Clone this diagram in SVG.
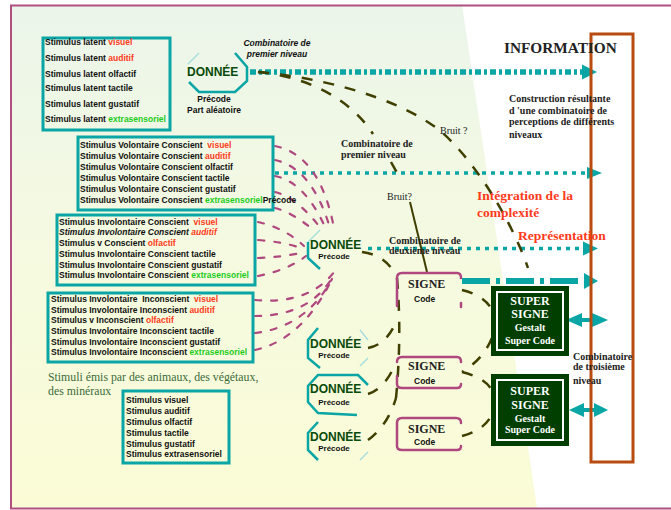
<svg xmlns="http://www.w3.org/2000/svg" width="671" height="510" viewBox="0 0 671 510">
<defs>
<linearGradient id="bg" x1="0" y1="0" x2="0" y2="1">
<stop offset="0" stop-color="#ebf5ea"/>
<stop offset="0.5" stop-color="#f5fae0"/>
<stop offset="1" stop-color="#fbfcd6"/>
</linearGradient>
</defs>
<style>
.sans{font-family:"Liberation Sans",Arial,sans-serif;font-weight:bold;font-size:8.5px;fill:#111}
.serif{font-family:"Liberation Serif","Times New Roman",serif;font-weight:bold;fill:#222}
.box{fill:none;stroke:#0aa5a5;stroke-width:3}
.red{fill:#ff3a1a}
.grn{fill:#1ccc1c}
.don{font-family:"Liberation Sans",Arial,sans-serif;font-weight:bold;font-size:12px;fill:#0a4a0a}
.pre{font-family:"Liberation Sans",Arial,sans-serif;font-weight:bold;font-size:8px;fill:#111;text-anchor:middle}
.oct{fill:none;stroke:#0aa5a5;stroke-width:2.5}
.octf{fill:none;stroke:#a8dede;stroke-width:1.5}
.signe{fill:none;stroke:#b04880;stroke-width:2.5;stroke-linecap:round}
.pink{fill:none;stroke:#b04880;stroke-width:2.2;stroke-dasharray:6 10;stroke-linecap:round}
.olive{fill:none;stroke:#3f3f00;stroke-width:2.5;stroke-dasharray:11 11}
.tl{fill:none;stroke:#0aa5a5}
.ta{fill:#0aa5a5}
.sup{fill:#003f00}
.supi{fill:none;stroke:#ffffff;stroke-width:2}
.st{font-family:"Liberation Serif","Times New Roman",serif;font-weight:bold;fill:#ffffff;text-anchor:middle}
.grt{font-family:"Liberation Serif","Times New Roman",serif;font-size:11.8px;fill:#3a6b3a}
</style>
<rect x="0" y="0" width="671" height="510" fill="#ffffff"/>
<polygon points="11,5 462,5 537,508 11,508" fill="url(#bg)"/>
<polyline points="671,5.5 11,5.5 11,508.5 671,508.5" fill="none" stroke="#b05080" stroke-width="2"/>

<g id="connectors">
<line class="tl" x1="250" y1="72" x2="584" y2="72" stroke-width="5.5" stroke-dasharray="6 3 3 3"/>
<polygon class="ta" points="582,64.5 597,72 582,79.5"/>
<line class="tl" x1="275" y1="173" x2="588" y2="173" stroke-width="3.5" stroke-dasharray="4 5"/>
<polygon class="ta" points="587,167 602,173 587,179"/>
<line class="tl" x1="368" y1="248.5" x2="584" y2="248.5" stroke-width="3.5" stroke-dasharray="4 5"/>
<polygon class="ta" points="583,241.5 598,248.5 583,255.5"/>
<line class="tl" x1="462" y1="281" x2="586" y2="281" stroke-width="6" stroke-dasharray="28 6 4 6"/>
<polygon class="ta" points="584,273 598,281 584,289"/>
<line class="tl" x1="578" y1="320" x2="596" y2="320" stroke-width="4"/>
<polygon class="ta" points="566,320 582,313 582,327"/>
<polygon class="ta" points="608,320 592,313 592,327"/>
<line class="tl" x1="580" y1="410" x2="597" y2="410" stroke-width="4"/>
<polygon class="ta" points="569,410 584,403 584,417"/>
<polygon class="ta" points="608,410 594,403 594,417"/>
<path class="pink" d="M275,146 Q320,155 334,228"/>
<path class="pink" d="M275,160 Q312,168 330,228"/>
<path class="pink" d="M275,176 Q305,182 326,229"/>
<path class="pink" d="M275,192 Q298,198 322,230"/>
<path class="pink" d="M275,208 Q292,212 316,232"/>
<path class="pink" d="M258,222 Q285,228 304,246"/>
<path class="pink" d="M258,240 Q285,242 304,249"/>
<path class="pink" d="M258,258 Q285,257 304,252"/>
<path class="pink" d="M258,276 Q288,270 306,256"/>
<path class="pink" d="M255,300 Q312,305 337,268"/>
<path class="pink" d="M255,316 Q312,316 335,273"/>
<path class="pink" d="M255,333 Q306,327 332,279"/>
<path class="pink" d="M255,350 Q300,340 329,285"/>
<path class="olive" d="M258,72 C305,76 350,98 373,134"/>
<path class="olive" d="M391,162 L401,180"/>
<path d="M410,202 L427,272" fill="none" stroke="#3f3f00" stroke-width="2"/>
<path class="olive" d="M258,72 C345,80 420,108 450,140 C480,170 512,222 528,268"/>
<path class="olive" d="M362,252 Q386,255 396,276"/>
<path class="olive" d="M397,278 Q402,335 396,398"/>
<path class="olive" d="M368,348 Q386,345 396,322"/>
<path class="olive" d="M368,394 Q386,388 396,362"/>
<path class="olive" d="M368,440 Q388,425 396,398"/>
<path class="olive" d="M462,290 Q502,300 493,335 Q485,358 462,372"/>
<path class="olive" d="M462,372 Q502,382 493,412 Q486,430 462,436"/>
</g>

<g id="box-latent">
<rect class="box" x="43" y="38" width="127" height="92"/>
<text class="sans" x="45" y="45">Stimulus latent <tspan class="red">visuel</tspan></text>
<text class="sans" x="45" y="61">Stimulus latent <tspan class="red">auditif</tspan></text>
<text class="sans" x="45" y="77">Stimulus latent olfactif</text>
<text class="sans" x="45" y="91">Stimulus latent tactile</text>
<text class="sans" x="45" y="107">Stimulus latent gustatif</text>
<text class="sans" x="45" y="122">Stimulus latent <tspan class="grn">extrasensoriel</tspan></text>
</g>

<g id="box-volontaire">
<rect class="box" x="78" y="137" width="195" height="73"/>
<text class="sans" x="80" y="148" xml:space="preserve">Stimulus Volontaire Conscient  <tspan class="red">visuel</tspan></text>
<text class="sans" x="80" y="159">Stimulus Volontaire Conscient <tspan class="red">auditif</tspan></text>
<text class="sans" x="80" y="170">Stimulus Volontaire Conscient olfactif</text>
<text class="sans" x="80" y="181">Stimulus Volontaire Conscient tactile</text>
<text class="sans" x="80" y="192">Stimulus Volontaire Conscient gustatif</text>
<text class="sans" x="80" y="203">Stimulus Volontaire Conscient <tspan class="grn">extrasensoriel</tspan>Précode</text>
</g>

<g id="box-involontaire-conscient">
<rect class="box" x="57" y="215" width="198" height="70"/>
<text class="sans" x="59" y="225" xml:space="preserve">Stimulus Involontaire Conscient  <tspan class="red">visuel</tspan></text>
<text class="sans" x="59" y="235" font-style="italic">Stimulus Involontaire Conscient <tspan class="red">auditif</tspan></text>
<text class="sans" x="59" y="246">Stimulus v Conscient <tspan class="red">olfactif</tspan></text>
<text class="sans" x="59" y="257">Stimulus Involontaire Conscient tactile</text>
<text class="sans" x="59" y="268">Stimulus Involontaire Conscient gustatif</text>
<text class="sans" x="59" y="278">Stimulus Involontaire Conscient <tspan class="grn">extrasensoriel</tspan></text>
</g>

<g id="box-involontaire-inconscient">
<rect class="box" x="48" y="293" width="205" height="69"/>
<text class="sans" x="51" y="302" xml:space="preserve">Stimulus Involontaire  Inconscient  <tspan class="red">visuel</tspan></text>
<text class="sans" x="51" y="313">Stimulus Involontaire Inconscient <tspan class="red">auditif</tspan></text>
<text class="sans" x="51" y="323">Stimulus v Inconscient <tspan class="red">olfactif</tspan></text>
<text class="sans" x="51" y="334">Stimulus Involontaire Inconscient tactile</text>
<text class="sans" x="51" y="345">Stimulus Involontaire Inconscient gustatif</text>
<text class="sans" x="51" y="355">Stimulus Involontaire Inconscient <tspan class="grn">extrasensoriel</tspan></text>
</g>

<g id="stimuli-label">
<text class="grt" x="48" y="381">Stimuli émis par des animaux, des végétaux,</text>
<text class="grt" x="48" y="395">des minéraux</text>
</g>

<g id="box-stimulus">
<rect class="box" x="123" y="391" width="106" height="72"/>
<text class="sans" x="126" y="403">Stimulus visuel</text>
<text class="sans" x="126" y="414">Stimulus auditif</text>
<text class="sans" x="126" y="425">Stimulus olfactif</text>
<text class="sans" x="126" y="436">Stimulus tactile</text>
<text class="sans" x="126" y="447">Stimulus gustatif</text>
<text class="sans" x="126" y="457">Stimulus extrasensoriel</text>
</g>

<g id="donnee-1">
<path class="octf" d="M188,64 L199,53"/>
<path class="oct" d="M235,53 L247,67 L247,81 L235,92 L199,92 L189,82"/>
<text class="don" x="187" y="76">DONNÉE</text>
<text class="sans" x="214" y="102" text-anchor="middle">Précode</text>
<text class="sans" x="214" y="113" text-anchor="middle">Part aléatoire</text>
<text class="sans" x="277" y="46" text-anchor="middle" font-style="italic">Combinatoire de</text>
<text class="sans" x="277" y="57" text-anchor="middle" font-style="italic">premier niveau</text>
</g>

<g id="donnee-2">
<path class="octf" d="M308,242 L320,230"/>
<path class="oct" d="M308,242 L308,258 L320,269"/>
<text class="don" x="310" y="249">DONNÉE</text>
<text class="pre" x="334" y="259">Précode</text>
</g>

<g id="donnee-3">
<path class="oct" d="M318,328 L308,340 L308,358 L320,368"/>
<path class="octf" d="M360,330 L368,340 M360,366 L368,358"/>
<text class="don" x="310" y="348">DONNÉE</text>
<text class="pre" x="334" y="358">Précode</text>
</g>

<g id="donnee-4">
<path class="oct" d="M368,385 L358,375 L318,375 L308,386 L308,402 L318,413 L357,415"/>
<text class="don" x="310" y="393">DONNÉE</text>
<text class="pre" x="334" y="405">Précode</text>
</g>

<g id="donnee-5">
<path class="oct" d="M318,422 L308,433 L308,450 L318,460"/>
<path class="octf" d="M360,460 L368,452"/>
<text class="don" x="310" y="441">DONNÉE</text>
<text class="pre" x="334" y="451">Précode</text>
</g>

<g id="signe-1">
<path class="signe" d="M397,306 L397,278 Q397,273 402,273 L457,273 Q461,273 461,278 M461,303 L461,307"/>
<text class="serif" x="408" y="288" font-size="12">SIGNE</text>
<text class="sans" x="414" y="302">Code</text>
</g>

<g id="signe-2">
<path class="signe" d="M397,362 Q397,357 402,357 L457,357 Q461,357 461,362 M397,376 L397,384 Q397,388 402,388 L457,388 Q461,388 461,384"/>
<text class="serif" x="408" y="370" font-size="12">SIGNE</text>
<text class="sans" x="414" y="384">Code</text>
</g>

<g id="signe-3">
<path class="signe" d="M461,423 Q461,418 456,418 L402,418 Q397,418 397,423 L397,446 Q397,450 402,450 L457,450 Q461,450 461,446"/>
<text class="serif" x="408" y="433" font-size="12">SIGNE</text>
<text class="sans" x="414" y="445">Code</text>
</g>

<g id="super-signe-1">
<rect class="sup" x="491" y="286" width="78" height="70"/>
<rect class="supi" x="497" y="292" width="66" height="58"/>
<text class="st" x="530" y="305" font-size="12">SUPER</text>
<text class="st" x="530" y="318" font-size="12">SIGNE</text>
<text class="st" x="530" y="331" font-size="10">Gestalt</text>
<text class="st" x="530" y="344" font-size="10">Super Code</text>
</g>

<g id="super-signe-2">
<rect class="sup" x="491" y="374" width="78" height="72"/>
<rect class="supi" x="497" y="380" width="66" height="60"/>
<text class="st" x="530" y="395" font-size="12">SUPER</text>
<text class="st" x="530" y="409" font-size="12">SIGNE</text>
<text class="st" x="530" y="422" font-size="10">Gestalt</text>
<text class="st" x="530" y="433" font-size="10">Super Code</text>
</g>

<g id="information">
<rect x="591" y="34" width="42" height="428" fill="none" stroke="#b84c10" stroke-width="3"/>
<text class="serif" x="504" y="53" font-size="15.3">INFORMATION</text>
<text class="serif" x="509" y="102" font-size="10">Construction résultante</text>
<text class="serif" x="509" y="114" font-size="10">d 'une combinatoire de</text>
<text class="serif" x="509" y="125" font-size="10">perceptions de différents</text>
<text class="serif" x="509" y="138" font-size="10">niveaux</text>
</g>

<g id="labels">
<text x="440" y="134" font-family="Liberation Serif,Times New Roman,serif" font-size="10" fill="#222">Bruit ?</text>
<text x="387" y="200" font-family="Liberation Serif,Times New Roman,serif" font-size="10" fill="#222">Bruit?</text>
<text class="serif" x="341" y="147" font-size="10">Combinatoire de</text>
<text class="serif" x="341" y="158" font-size="10">premier niveau</text>
<text class="serif" x="389" y="244" font-size="10">Combinatoire de</text>
<text class="serif" x="389" y="254" font-size="10">deuxième niveau</text>
<text class="serif red" x="477" y="200" font-size="13.5">Intégration de la</text>
<text class="serif red" x="477" y="217" font-size="13.5">complexité</text>
<text class="serif red" x="518" y="240" font-size="13.5">Représentation</text>
<text class="serif" x="573" y="360" font-size="10">Combinatoire</text>
<text class="serif" x="573" y="370" font-size="10">de troisième</text>
<text class="serif" x="573" y="384" font-size="10">niveau</text>
</g>
</svg>
